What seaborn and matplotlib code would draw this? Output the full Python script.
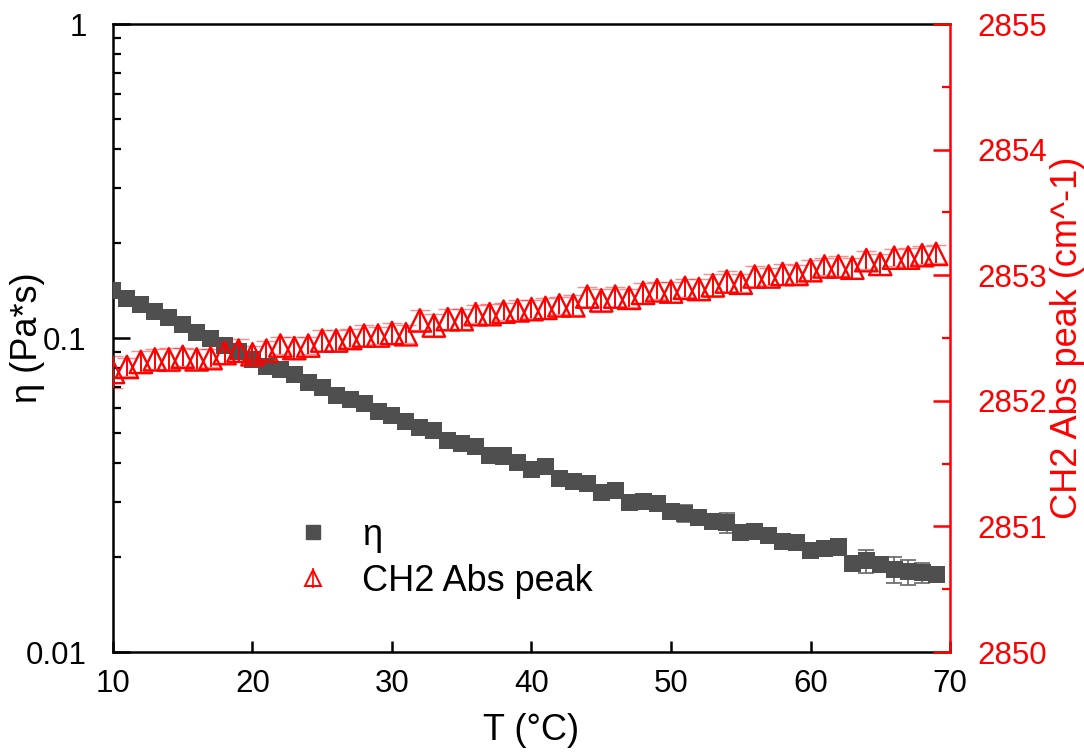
import numpy as np
import pandas as pd
import matplotlib
matplotlib.use("Agg")
import matplotlib.pyplot as plt
import seaborn as sns
from matplotlib.lines import Line2D
from matplotlib.ticker import LogLocator, NullFormatter, MultipleLocator, FixedLocator, FixedFormatter

# ---------------- data ----------------
temperature = list(range(10, 70))

eta = [0.1422, 0.1338, 0.1283, 0.1213, 0.1164, 0.1108, 0.1043, 0.0998, 0.0945, 0.0904,
       0.0855, 0.0810, 0.0791, 0.0764, 0.0721, 0.0698, 0.0657, 0.0635, 0.0619, 0.0582,
       0.0567, 0.0541, 0.0519, 0.0507, 0.0471, 0.0462, 0.0453, 0.0424, 0.0421, 0.0400,
       0.0380, 0.0389, 0.0356, 0.0350, 0.0344, 0.0322, 0.0326, 0.0300, 0.0301, 0.0298,
       0.0280, 0.0276, 0.0269, 0.0260, 0.0258, 0.0240, 0.0242, 0.0235, 0.0225, 0.0223,
       0.0210, 0.0213, 0.0216, 0.0191, 0.0195, 0.0190, 0.0183, 0.0180, 0.0179, 0.0176]

eta_err = [0.003, 0.002, 0.002, 0.002, 0.002, 0.002, 0.002, 0.002, 0.002, 0.002,
           0.002, 0.001, 0.001, 0.001, 0.001, 0.001, 0.001, 0.001, 0.001, 0.001,
           0.001, 0.001, 0.001, 0.001, 0.001, 0.001, 0.001, 0.001, 0.001, 0.001,
           0.001, 0.001, 0.001, 0.001, 0.001, 0.001, 0.001, 0.001, 0.001, 0.001,
           0.001, 0.0017, 0.001, 0.001, 0.0019, 0.001, 0.001, 0.001, 0.001, 0.001,
           0.0008, 0.0008, 0.0008, 0.0008, 0.0016, 0.0008, 0.0017, 0.0017, 0.0013, 0.0008]

ch2_peak = [2852.23, 2852.27, 2852.31, 2852.33, 2852.33, 2852.35, 2852.33, 2852.34, 2852.38, 2852.40,
            2852.37, 2852.40, 2852.44, 2852.42, 2852.44, 2852.48, 2852.48, 2852.50, 2852.52, 2852.52,
            2852.54, 2852.53, 2852.64, 2852.60, 2852.65, 2852.65, 2852.69, 2852.69, 2852.71, 2852.72,
            2852.73, 2852.74, 2852.76, 2852.76, 2852.83, 2852.80, 2852.83, 2852.82, 2852.86, 2852.88,
            2852.87, 2852.90, 2852.89, 2852.92, 2852.95, 2852.94, 2852.99, 2852.99, 2853.01, 2853.01,
            2853.04, 2853.07, 2853.07, 2853.06, 2853.12, 2853.09, 2853.14, 2853.14, 2853.16, 2853.17]

ch2_err = [0.13, 0.07, 0.09, 0.08, 0.09, 0.07, 0.08, 0.07, 0.08, 0.09,
           0.07, 0.08, 0.07, 0.09, 0.07, 0.08, 0.08, 0.07, 0.08, 0.07,
           0.08, 0.07, 0.08, 0.09, 0.08, 0.08, 0.07, 0.08, 0.07, 0.08,
           0.07, 0.08, 0.07, 0.08, 0.08, 0.09, 0.08, 0.07, 0.08, 0.07,
           0.08, 0.07, 0.08, 0.09, 0.08, 0.07, 0.08, 0.07, 0.08, 0.07,
           0.08, 0.07, 0.08, 0.08, 0.07, 0.08, 0.07, 0.08, 0.07, 0.07]

left_ticks = [0.01, 0.1, 1]
left_ticklabels = ["0.01", "0.1", "1"]
right_ticks = [2850, 2851, 2852, 2853, 2854, 2855]
x_ticks = [10, 20, 30, 40, 50, 60, 70]

df = pd.DataFrame({"T": temperature, "eta": eta, "eta_err": eta_err,
                   "ch2": ch2_peak, "ch2_err": ch2_err})

# ---------------- style ----------------
sns.set_theme(style="ticks")
plt.rcParams['font.family'] = ['Liberation Sans', 'DejaVu Sans']
plt.rcParams['text.color'] = 'black'
plt.rcParams['axes.labelcolor'] = 'black'
plt.rcParams['xtick.color'] = 'black'
plt.rcParams['ytick.color'] = 'black'

GRAY = "#4f4f4f"
RED = "#ff0000"
TICK_FS = 22.5
LABEL_FS = 26

fig = plt.figure(figsize=(10.84, 7.53), dpi=100)
ax = fig.add_axes([0.1042, 0.1341, 0.7722, 0.834])

# eta (left, log)
ax.errorbar(df["T"], df["eta"], yerr=df["eta_err"], fmt="none", ecolor="#666666",
            elinewidth=1.2, capsize=6, capthick=1.2, zorder=2)
sns.scatterplot(data=df, x="T", y="eta", ax=ax, marker="s", s=150, color=GRAY,
                edgecolor="none", linewidth=0, zorder=3, legend=False)
ax.set_yscale("log")
ax.set_ylim(0.01, 1)
ax.set_xlim(10, 70)
ax.yaxis.set_major_locator(FixedLocator(left_ticks))
ax.yaxis.set_major_formatter(FixedFormatter(left_ticklabels))
ax.yaxis.set_minor_locator(LogLocator(base=10, subs=np.arange(2, 10)))
ax.yaxis.set_minor_formatter(NullFormatter())
ax.set_xticks(x_ticks)
ax.set_xlabel("T (°C)", fontsize=LABEL_FS, labelpad=10)
ax.set_ylabel("η (Pa*s)", fontsize=LABEL_FS)
ax.yaxis.set_label_coords(-0.081, 0.5)

for s in ["left", "bottom", "top"]:
    ax.spines[s].set_linewidth(1.8)
    ax.spines[s].set_color("black")
ax.spines["right"].set_visible(False)
ax.tick_params(axis="y", which="major", direction="in", length=12, width=1.8,
               labelsize=TICK_FS, right=False, pad=19)
ax.tick_params(axis="y", which="minor", direction="in", length=6, width=1.6, right=False)
ax.tick_params(axis="x", which="major", direction="in", length=8, width=1.8,
               labelsize=TICK_FS, top=False, pad=12)

# CH2 (right, linear)
ax2 = ax.twinx()
_, caps, _ = ax2.errorbar(df["T"], df["ch2"], yerr=df["ch2_err"], fmt="none", ecolor=RED,
                          elinewidth=1.4, capsize=7, capthick=1.0, zorder=2)
for c in caps:
    c.set_alpha(0.45)
sns.scatterplot(data=df, x="T", y="ch2", ax=ax2, marker="^", s=260, color=RED,
                facecolor="none", edgecolor=RED, linewidth=1.7, zorder=3, legend=False)
ax2.set_ylim(2850, 2855)
ax2.set_yticks(right_ticks)
ax2.yaxis.set_minor_locator(MultipleLocator(0.5))
ax2.set_ylabel("CH2 Abs peak (cm^-1)", fontsize=LABEL_FS, color=RED)
ax2.yaxis.set_label_coords(1.119, 0.5)
for s in ["left", "bottom", "top"]:
    ax2.spines[s].set_visible(False)
ax2.spines["right"].set_color(RED)
ax2.spines["right"].set_linewidth(1.8)
ax2.tick_params(axis="y", which="major", direction="in", length=12, width=1.8,
                colors=RED, labelsize=TICK_FS, pad=20)
ax2.tick_params(axis="y", which="minor", direction="in", length=6, width=1.6, colors=RED)

# legend
h_eta = Line2D([], [], marker="s", color=GRAY, linestyle="none", markersize=10)
h_ch2 = (Line2D([], [], marker="^", markerfacecolor="none", markeredgecolor=RED,
                linestyle="none", markersize=12, markeredgewidth=1.4),
         Line2D([], [], marker="|", color=RED, linestyle="none", markersize=14,
                markeredgewidth=1.2))
ax2.legend([h_eta, h_ch2], ["η", "CH2 Abs peak"], loc="upper left",
           bbox_to_anchor=(0.2721, 0.312), bbox_transform=fig.transFigure,
           frameon=False, fontsize=26, handlelength=1.0, handletextpad=0.86,
           labelspacing=0.29, borderpad=0, borderaxespad=0)

fig.savefig("out.png", dpi=100)
